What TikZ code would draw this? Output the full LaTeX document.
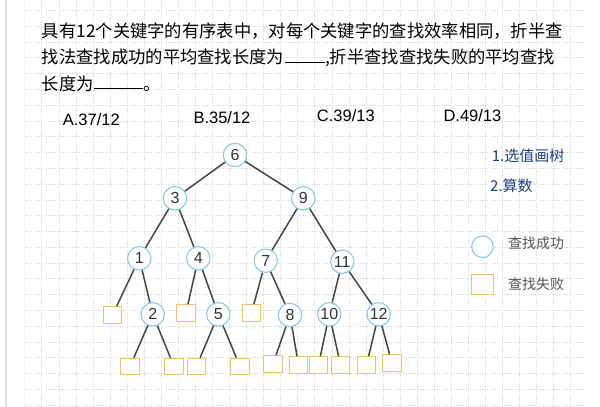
\documentclass[tikz,border=0pt]{standalone}
\usepackage{fontspec}
\setmainfont{Liberation Sans}
\newfontfamily\cjk{Noto Sans CJK SC}
\definecolor{gridc}{HTML}{DCDCDC}
\definecolor{edgec}{HTML}{454545}
\definecolor{circc}{HTML}{84C3EC}
\definecolor{sqc}{HTML}{EEC272}
\definecolor{inkc}{HTML}{333333}
\definecolor{navyc}{HTML}{203F7C}
\definecolor{legc}{HTML}{555555}
\tikzset{
  gridline/.style={gridc, line width=0.5pt, dash pattern=on 1.2pt off 1.2pt},
  titletext/.style={font=\cjk\fontsize{17.3}{20}\selectfont, inner sep=0pt, text=black},
  opttext/.style={font=\fontsize{16.5}{18}\selectfont, inner sep=0pt, text=black},
  circ/.style={circle, draw=circc, line width=1pt, fill=white, minimum size=23.4pt, inner sep=0pt, font=\fontsize{16}{16}\selectfont, text=inkc},
  sq/.style={rectangle, draw=sqc, line width=1pt, fill=white, minimum width=18.3pt, minimum height=16.7pt, inner sep=0pt},
  edge/.style={draw=edgec, line width=1.5pt},
  legtext/.style={font=\cjk\fontsize{14}{16}\selectfont, inner sep=0pt, text=legc},
  notetext/.style={font=\cjk\fontsize{15}{17}\selectfont, inner sep=0pt, text=navyc}
}
\begin{document}
\begin{tikzpicture}[x=1pt,y=-1pt]
\useasboundingbox (0,0) rectangle (600,407);
\fill[white] (0,0) rectangle (600,407);
% paper grid
\foreach \i in {0,...,31} \draw[gridline] ({41.7+\i*17.065},0) -- ({41.7+\i*17.065},407);
\foreach \j in {0,...,25} \draw[gridline] (24,{10.3+\j*15.79}) -- (587,{10.3+\j*15.79});
\draw[gray!25, line width=1.6pt] (6,0) -- (6,407);
\draw[gray!8, line width=0.6pt] (24,0) -- (24,407);
% question text
\node[titletext, anchor=base west] (l1) at (41.7,37) {具有12个关键字的有序表中，对每个关键字的查找效率相同，折半查};
\node[titletext, anchor=base west] (l2) at (41.7,63.5) {找法查找成功的平均查找长度为\hspace{1pt}\rule[1pt]{40pt}{0.8pt},折半查找查找失败的平均查找};
\node[titletext, anchor=base west] (l3) at (41.7,90) {长度为\rule[1pt]{49pt}{0.8pt}\hspace{1pt}。};
% options
\node[opttext, anchor=base west] (oa) at (62.7,125) {A.37/12};
\node[opttext, anchor=base west] (ob) at (193.3,123.3) {B.35/12};
\node[opttext, anchor=base west] (oc) at (316.7,121) {C.39/13};
\node[opttext, anchor=base west] (od) at (443.3,121) {D.49/13};
% tree nodes
\node[circ] (n6) at (235,155) {6};
\node[circ] (n3) at (175,198.3) {3};
\node[circ] (n9) at (303.3,198.3) {9};
\node[circ] (n1) at (139.3,258.3) {1};
\node[circ] (n4) at (198.3,258.3) {4};
\node[circ] (n7) at (265.7,260.7) {7};
\node[circ] (n11) at (342.3,261.7) {11};
\node[circ] (n2) at (152.7,314.3) {2};
\node[circ] (n5) at (218.3,314.3) {5};
\node[circ] (n8) at (290,315) {8};
\node[circ] (n10) at (329.3,314.3) {10};
\node[circ] (n12) at (378.7,314.3) {12};
\node[sq] (s1) at (112.5,315) {};
\node[sq] (s4) at (186,313) {};
\node[sq] (s7) at (251.5,313) {};
\node[sq] (s2a) at (130,366.5) {};
\node[sq] (s2b) at (174,366.5) {};
\node[sq] (s5a) at (196.5,366.5) {};
\node[sq] (s5b) at (240,366.5) {};
\node[sq] (s8a) at (273,364) {};
\node[sq] (s8b) at (298.5,365) {};
\node[sq] (s10a) at (318.5,365) {};
\node[sq] (s10b) at (340.5,365) {};
\node[sq] (s12a) at (366.5,365) {};
\node[sq] (s12b) at (392,363) {};
% tree edges
\draw[edge] (n6) -- (n3);
\draw[edge] (n6) -- (n9);
\draw[edge] (n3) -- (n1);
\draw[edge] (n3) -- (n4);
\draw[edge] (n9) -- (n7);
\draw[edge] (n9) -- (n11);
\draw[edge] (n1) -- (s1);
\draw[edge] (n1) -- (n2);
\draw[edge] (n4) -- (s4);
\draw[edge] (n4) -- (n5);
\draw[edge] (n7) -- (s7);
\draw[edge] (n7) -- (n8);
\draw[edge] (n11) -- (n10);
\draw[edge] (n11) -- (n12);
\draw[edge] (n2) -- (s2a);
\draw[edge] (n2) -- (s2b);
\draw[edge] (n5) -- (s5a);
\draw[edge] (n5) -- (s5b);
\draw[edge] (n8) -- (s8a);
\draw[edge] (n8) -- (s8b);
\draw[edge] (n10) -- (s10a);
\draw[edge] (n10) -- (s10b);
\draw[edge] (n12) -- (s12a);
\draw[edge] (n12) -- (s12b);
% notes
\node[notetext, anchor=west] (note1) at (491.7,156) {1.选值画树};
\node[notetext, anchor=west] (note2) at (490,186) {2.算数};
% legend
\node[circ, minimum size=21.6pt] (legc) at (482.5,246.7) {};
\node[sq, minimum width=22pt, minimum height=20pt] (legs) at (482,284.3) {};
\node[legtext, anchor=west] (legt1) at (508,243.3) {查找成功};
\node[legtext, anchor=west] (legt2) at (508,284.3) {查找失败};
\end{tikzpicture}
\end{document}
